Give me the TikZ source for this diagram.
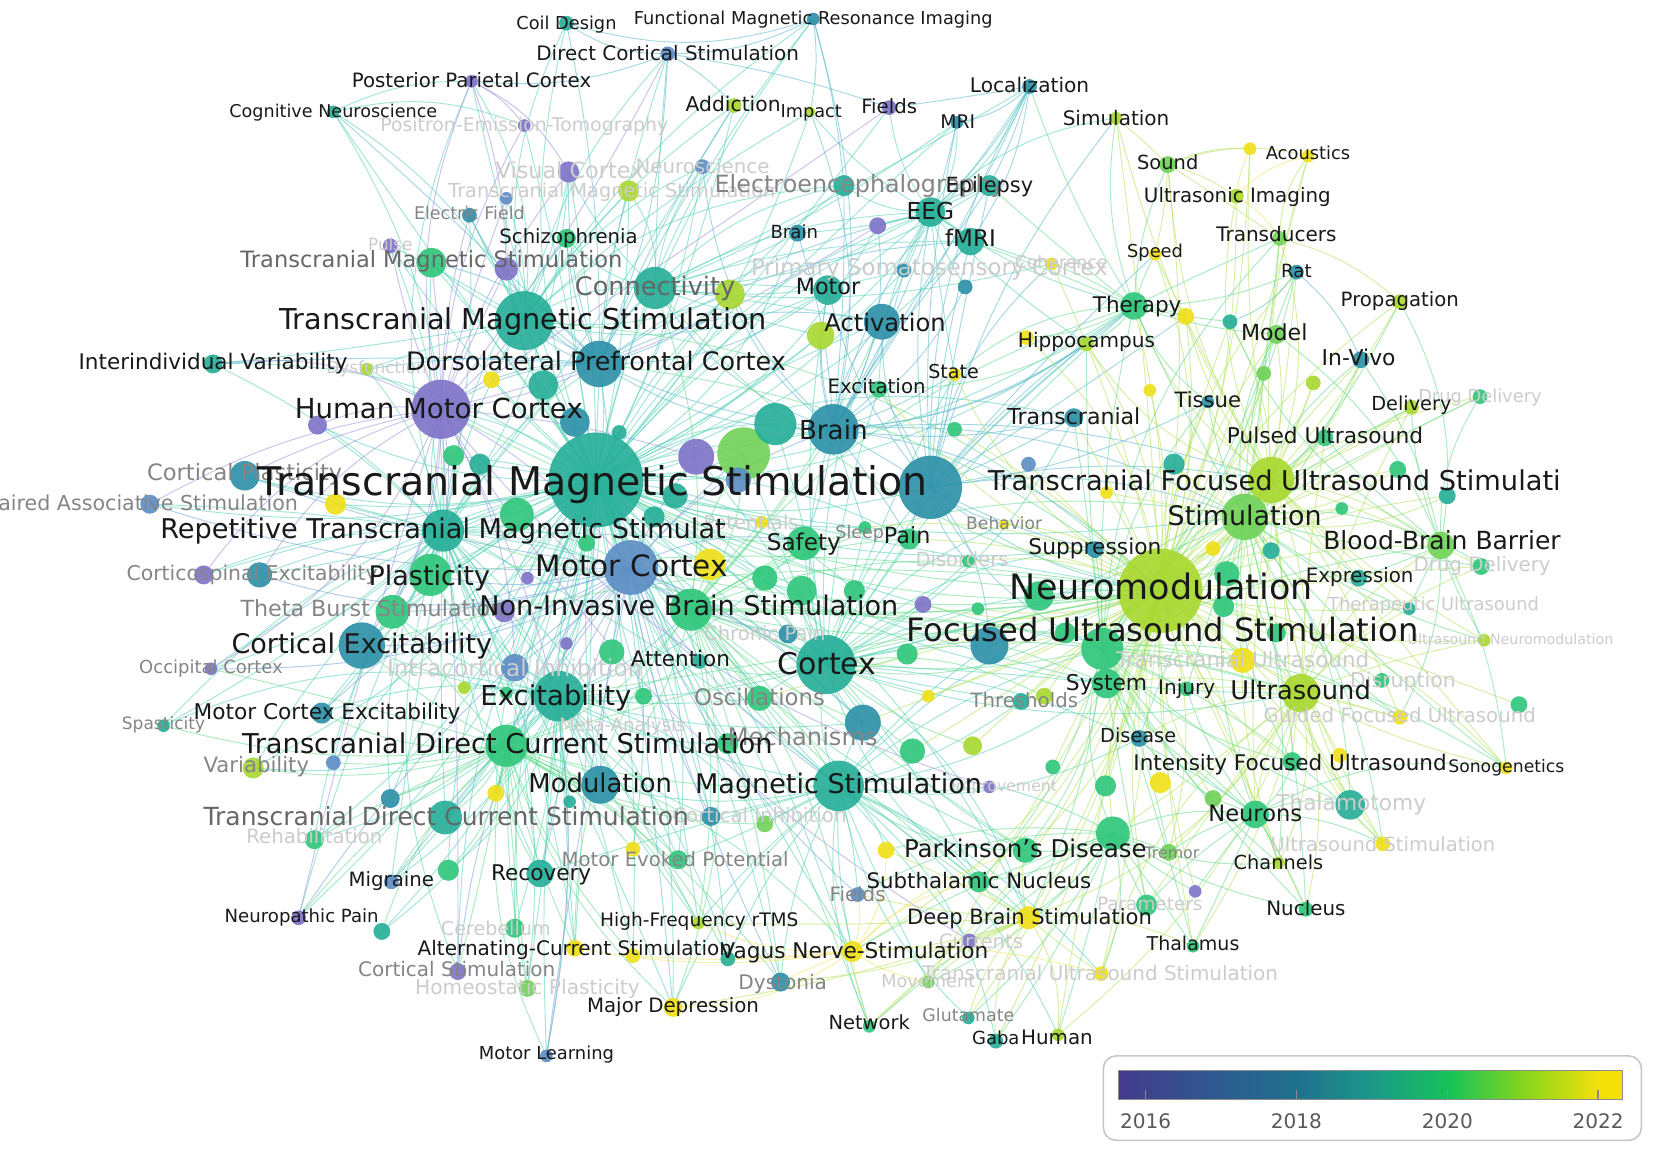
\documentclass[tikz,border=0pt]{standalone}
\usepackage{fontspec}
\setmainfont{DejaVu Sans}
\usepackage{graphicx}
\definecolor{c16}{HTML}{7E72C8}
\definecolor{c17}{HTML}{5C8CC4}
\definecolor{c18}{HTML}{2B90A8}
\definecolor{c19}{HTML}{24AE98}
\definecolor{c20}{HTML}{2EC67A}
\definecolor{c205}{HTML}{6FD257}
\definecolor{c21}{HTML}{A8D82E}
\definecolor{c22}{HTML}{F0DF18}
\definecolor{k16}{HTML}{9C92E2}
\definecolor{k17}{HTML}{72A6DA}
\definecolor{k18}{HTML}{5BB9CF}
\definecolor{k19}{HTML}{55D2B6}
\definecolor{k20}{HTML}{66DC8E}
\definecolor{k21}{HTML}{B5E35E}
\definecolor{k22}{HTML}{EFE35C}
\definecolor{v0}{HTML}{433A8B}
\definecolor{v1}{HTML}{2E5B90}
\definecolor{v2}{HTML}{1F708D}
\definecolor{v3}{HTML}{1C9889}
\definecolor{v4}{HTML}{14C25A}
\definecolor{v5}{HTML}{84D51C}
\definecolor{v6}{HTML}{F3E00C}
\definecolor{v7}{HTML}{F5E003}
\pgfdeclarehorizontalshading{yrs}{100bp}{color(0bp)=(v0); color(25bp)=(v0); color(35bp)=(v1); color(42.7bp)=(v2); color(50.2bp)=(v3); color(57.6bp)=(v4); color(65.1bp)=(v5); color(72.6bp)=(v6); color(75bp)=(v7); color(100bp)=(v7)}
\tikzset{
  lnk/.style={line width=0.9pt, draw opacity=0.55},
  e16/.style={lnk,draw=k16}, e17/.style={lnk,draw=k17}, e18/.style={lnk,draw=k18},
  e19/.style={lnk,draw=k19}, e20/.style={lnk,draw=k20}, e21/.style={lnk,draw=k21},
  e22/.style={lnk,draw=k22},
  lab/.style={inner sep=0pt, yshift=-1.5pt},
  lbk/.style={lab, text=black!90},
  ldg/.style={lab, text=black!60},
  lgr/.style={lab, text=black!48},
  llt/.style={lab, text=black!20},
  yearlab/.style={inner sep=0pt, text=black!65, font=\fontsize{19}{22}\selectfont}
}
\newcommand\linkhub[3]{\foreach \tg [count=\kk] in {#3}{\pgfmathsetmacro\bd{mod(\kk*37,41)-20}\draw[#2] (#1) to[bend left=\bd] (\tg);}}
\begin{document}
\begin{tikzpicture}[x=1pt,y=-1pt]
\useasboundingbox (0,0) rectangle (1568,1090);
\fill[white] (0,0) rectangle (1568,1090);
\clip (0,0) rectangle (1568,1090);
\def\items{tms/565/455/45/c19, nm/1100/560/40/c21, hmc/418/388/28/c16, tms2/497/304/28/c19, cortex/783/630/28/c19, bigtb/882/462/30/c18, mc/598/538/26/c17, yg17/705/430/25/c205, brainL/790/407/24/c18, excit/530/660/24/c19, magst/795/745/24/c19, dlpfc/568/345/22/c18, ce/343/612/22/c18, tfus/1205/455/22/c21, stim/1180/490/22/c205, conn/621/273/20/c19, rtms/420/503/20/c19, plast/408/545/20/c20, tdcs/480/707/20/c20, nibs/655/578/20/c20, tg17/735/402/20/c19, fusbig/1045/615/20/c20, fustb/938/612/18/c18, modul/569/744/18/c18, us/1233/657/18/c21, activ/836/305/17/c18, purp17/660/433/17/c16, mech/818/685/17/c18, x36/490/488/16/c20, tdcs2/422/775/16/c19, tbs/372/580/16/c20, safety/762/515/16/c20, pdbig/1055/790/16/c20, yel18/673/535/15/c22, cp/232/451/14/c18, tms3/409/249/14/c20, yg12/692/279/14/c21, eeg/882/201/14/c19, motor/785/275/14/c19, system/1049/648/14/c20, thalam/1280/763/14/c19, x1/545/400/14/c18, x2/515/365/14/c19, x5/760/560/14/c20, x10/985/565/14/c20, therapy/1075/290/13/c20, fmriS/920/229/13/c19, yg16/778/318/13/c21, icl/488/633/13/c17, recov/512/828/13/c19, neurons/1190/772/13/c20, bbb/1366/517/13/c205, tus/1178/626/12/c22, cse/246/545/12/c18, pd/972/806/12/c20, oscill/720/662/12/c20, x4/700/455/12/c17, x7/725/548/12/c20, x12/865/712/12/c20, x18/1163/544/12/c20, x41/580/618/12/c20, x45/640/470/12/c19, purp12/480/255/11/c16, dbs/975/870/11/c22, x3/620/490/10/c19, x6/810/560/10/c20, x15/1048/745/10/c20, x16/1100/742/10/c22, x21/1113/440/10/c19, x33/1160/575/10/c20, x34/455/440/10/c19, x35/430/432/10/c20, x39/478/580/10/c16, x47/690/705/10/c20, x49/860/620/10/c20, x50/1010/600/10/c20, yel9/318/478/10/c22, tms4/596/181/10/c21, vc/539/163/10/c16, eegraph/800/176/10/c19, epil/938/176/10/c19, pain/862/511/10/c20, stn/928/836/10/c20, vns/808/902/10/c22, var/240/728/10/c21, mce/305/676/10/c18, grn6/425/825/10/c20, params/1087/858/10/c20, purp8/193/545/9/c16, purp10/301/403/9/c16, iv/202/345/9/c19, pas/142/478/9/c17, schizo/537/226/9/c20, transcr/1018/396/9/c18, model/1210/317/9/c205, chronic/747/601/9/c18, blue6/370/757/9/c18, rehab/298/796/9/c20, mep/643/815/9/c20, cereb/488/880/9/c20, mdep/638/955/9/c22, dyst/740/931/9/c18, cortinh/674/774/9/c18, x13/922/707/9/c21, x52/1210/600/9/c20, ifus/1225/722/9/c20, sound/1107/156/8/c205, yel2/1124/300/8/c22, excitn/833/369/8/c20, pulsed/1256/415/8/c20, invivo/1290/341/8/c18, supp/1038/521/8/c18, drugd2/1404/537/8/c20, expr/1288/548/8/c19, thresh/968/665/8/c19, disease/1080/700/8/c18, yel3/840/806/8/c22, tremor/1108/808/8/c205, purp14/832/214/8/c16, brainS/756/221/8/c18, yel11/466/360/8/c22, yel6/470/752/8/c22, acs/545/899/8/c22, cortstim/434/921/8/c16, homeo/500/937/8/c205, grn5/362/883/8/c19, grn19/725/781/8/c205, x8/875/573/8/c16, x17/1150/757/8/c205, x20/1205/522/8/c19, x29/1325/445/8/c20, x30/1372/470/8/c19, x32/1440/668/8/c20, x37/556/515/8/c20, x46/610/660/8/c20, x51/990/660/8/c21, coil/537/22/7/c19, dcs/633/51/7/c17, addict/696/100/7/c21, fieldsT/843/102/7/c16, loc/976/82/7/c18, usimg/1172/186/7/c21, transd/1213/226/7/c205, rat/1229/258/7/c18, propag/1327/286/7/c21, cyan1/1166/305/7/c19, hippoY/973/320/7/c22, hippo/1030/326/7/c21, delivery/1338/386/7/c21, drugd1/1403/376/7/c20, gfus/1327/680/7/c22, ussti/1311/800/7/c22, nucleus/1238/862/7/c20, fieldsB/813/848/7/c17, currents/919/892/7/c16, tusst/1044/923/7/c22, gaba/944/987/7/c19, yel4/600/906/7/c22, teal4/690/909/7/c19, migr/371/836/7/c17, neuropain/283/870/7/c16, yel5/600/805/7/c22, blue7/316/723/7/c17, efield/445/204/7/c18, pulse/370/233/7/c16, psc/857/256/7/c18, blue15/915/272/7/c18, neurosci/666/158/7/c17, atten/663/627/7/c19, injury/1125/653/7/c20, x14/998/727/7/c20, x19/1150/520/7/c22, x22/975/440/7/c17, x24/905/407/7/c20, x26/1198/354/7/c205, x27/1245/363/7/c21, x31/1310/645/7/c20, x44/587/410/7/c19, x53/1270/716/7/c22, fmri/771/18/6/c18, ppc/447/77/6/c16, cogn/316/106/6/c19, pet/497/119/6/c16, mri/907/116/6/c18, simu/1058/112/6/c21, acoust/1240/148/6/c22, yel1/1185/141/6/c22, speed/1095/241/6/c22, state/905/355/6/c22, tissue/1145/381/6/c18, therus/1336/577/6/c19, usnm/1407/607/6/c21, sono/1428/728/6/c22, channels/1212/818/6/c21, thalamus/1131/897/6/c20, purp2/1133/845/6/c16, movement/880/931/6/c205, glut/918/965/6/c19, human/1003/981/6/c21, network/824/973/6/c20, hfrtms/662/875/6/c21, mlearn/518/1001/6/c17, spast/155/688/6/c19, occ/200/634/6/c16, dysf/348/350/6/c21, coher/997/250/6/c22, potent/722/495/6/c22, sleep/820/500/6/c20, disord/918/532/6/c20, improve/938/746/6/c16, x9/927/577/6/c20, x11/880/660/6/c22, x23/1049/467/6/c22, x25/1090/370/6/c22, x28/1272/482/6/c20, x38/500/548/6/c16, x40/537/610/6/c16, x42/440/652/6/c21, x43/480/657/6/c20, x48/540/760/6/c19, blue13/480/188/6/c17, impact/768/106/5/c21, behav/952/497/5/c22}
\foreach \id/\x/\y/\r/\cc in \items {\coordinate (\id) at (\x,\y);}
% ---------- links ----------
\linkhub{tms}{e19}{coil,fmri,dcs,ppc,cogn,pet,addict,impact,loc,brainS,eeg,epil,eegraph,conn,tms2,tms3,tms4,dlpfc,hmc,iv,rtms,cp,pas,cse,plast,tbs,ce,occ,mce,spast,tdcs,tdcs2,var,excit,mc,nibs,safety,modul,magst,cortex,recov,migr,neuropain,mdep,hfrtms,acs,vns,mlearn,cereb,cortstim,homeo,mep,rehab,motor,activ,brainL,nm,fusbig,stim,therapy,pd,dbs,stn,network,dyst,schizo,efield,vc,neurosci,psc,hippo,transcr,pain,chronic,atten,oscill,mech,icl,purp17,yg17,bigtb,yel18,tg17,purp10,yel9,yel11,dysf,purp8,blue7,blue6,yel6,grn6,grn5,yel5,teal4,yel4,cortinh,grn19,potent,sleep,fmriS,purp14,blue13,purp12,yg12,pulse,mri,fieldsT,yg16,system,supp,us}
\linkhub{tms}{e19}{x1,x2,x3,x4,x34,x35,x36,x37,x38,x39,x40,x41,x42,x43,x44,x45,x46,x47,x48,x5,x6,x7}
\linkhub{rtms}{e19}{hmc,dlpfc,tms2,tms3,cp,pas,cse,purp8,plast,tbs,ce,occ,mce,spast,tdcs,tdcs2,var,iv,dysf,excit,mc,nibs,modul,magst,mdep,migr,neuropain,recov,rehab,cogn,ppc,schizo,cortex,brainL,conn,yel9,purp10,icl,blue7,blue6,cortstim,homeo,mep,acs,hfrtms,safety,addict,efield,pulse,vc,x34,x35,x36,x38,x39,x42,x43}
\linkhub{hmc}{e16}{ppc,pet,vc,pulse,purp12,tms3,cp,pas,cse,purp8,occ,icl,mc,purp17,cortstim,neuropain,tms2,dlpfc,purp10,iv,ce,plast,tbs,efield,blue13,fieldsT,dcs,purp14,currents,improve,mlearn}
\linkhub{mc}{e17}{ce,plast,tbs,icl,excit,nibs,modul,magst,tdcs,mce,cse,occ,pas,cp,migr,mlearn,dyst,cortinh,chronic,atten,safety,brainL,mech,purp17,yg17,cortex,recov,neuropain,fieldsB,cortstim}
\linkhub{excit}{e19}{plast,tbs,ce,tdcs,tdcs2,modul,magst,nibs,mce,spast,var,rehab,recov,cereb,homeo,mep,oscill,mech,atten,icl,grn6,grn5,blue6,yel6,yel4,acs,hfrtms,cortex,safety,cortinh,grn19,teal4,migr,mlearn,x40,x41,x42,x43,x46,x47,x48}
\linkhub{nibs}{e20}{tdcs,modul,magst,cortex,safety,chronic,oscill,mech,atten,acs,mdep,vns,hfrtms,dyst,network,pd,stn,dbs,nm,fusbig,stim,pain,disord,sleep,potent,yel18,brainL,activ,conn,yg17,tg17,therapy,system,us,tus}
\linkhub{tdcs}{e20}{tdcs2,var,blue7,blue6,yel6,rehab,migr,neuropain,grn5,recov,grn6,mep,yel5,cereb,cortstim,homeo,acs,yel4,mdep,mlearn,hfrtms,mce,spast,ce,tbs,occ,modul,magst,cortinh,grn19,teal4,vns,dyst}
\linkhub{magst}{e19}{cortex,modul,mech,oscill,cortinh,grn19,vns,dyst,network,pd,yel3,stn,dbs,fieldsB,currents,movement,improve,thresh,system,disease,pdbig,nm,fusbig,fustb,mep,recov,hfrtms,teal4,mdep,glut,gaba,human,tusst}
\linkhub{cortex}{e19}{brainL,activ,motor,safety,pain,sleep,disord,oscill,mech,chronic,atten,nm,fusbig,fustb,system,thresh,stim,tfus,us,transcr,supp,behav,bigtb,excitn,state,yg17,tg17,purp17,pd,stn,dbs,neurons,hippo,therapy}
\linkhub{cortex}{e20}{x5,x6,x7,x8,x9,x11,x12,x13,x49,x50,x51}
\linkhub{brainL}{e18}{activ,motor,eeg,fmriS,epil,eegraph,brainS,psc,blue15,purp14,conn,yg12,yg16,tg17,bigtb,excitn,state,transcr,hippo,therapy,nm,stim,tfus,safety,pain,sleep,loc,mri,fmri,impact,neurosci,dlpfc,tms2}
\linkhub{bigtb}{e18}{activ,motor,eeg,fmriS,epil,transcr,supp,behav,nm,fusbig,fustb,stim,tfus,therapy,hippo,state,excitn,tissue,pain,disord,coher,loc,simu,mri,speed,yel2}
\linkhub{dlpfc}{e18}{tms2,conn,schizo,addict,mdep,iv,dysf,yel11,hmc,tms3,purp12,efield,vc,tms4,neurosci,cogn,coil,dcs,yg12,motor,activ,fmriS,eeg}
\linkhub{tms2}{e19}{conn,schizo,tms3,tms4,efield,pulse,vc,blue13,cogn,ppc,coil,dcs,addict,impact,iv,dysf,yel11,purp12,yg12,motor,eegraph,neurosci,fmri}
\linkhub{conn}{e19}{eegraph,eeg,fmriS,motor,activ,yg16,brainS,psc,epil,tms4,schizo,neurosci,vc,fmri,dcs,loc,mri,coher}
\linkhub{eeg}{e19}{eegraph,epil,fmriS,brainS,purp14,psc,blue15,coher,loc,mri,simu,fieldsT,impact,motor,activ,state,hippo,therapy,excitn}
\linkhub{nm}{e21}{tfus,stim,bbb,drugd1,drugd2,expr,therus,usnm,supp,behav,fusbig,fustb,tus,system,injury,us,thresh,disease,gfus,ifus,sono,thalam,neurons,ussti,channels,nucleus,thalamus,purp2,params,pdbig,pd,tremor,stn,dbs,tusst,movement,human,therapy,yel2,hippo,hippoY,state,excitn,tissue,delivery,pulsed,transcr,sound,usimg,transd,speed,rat,propag,model,cyan1,invivo,simu,coher,pain,disord,sleep,vns,network,glut,gaba,mech,oscill,acoust,yel1}
\linkhub{nm}{e21}{x8,x9,x10,x11,x12,x13,x14,x15,x16,x17,x18,x19,x20,x21,x22,x23,x24,x25,x26,x27,x28,x29,x30,x31,x32,x33,x49,x50,x51,x52,x53}
\linkhub{nm}{e20}{tms,rtms,mc,nibs,excit,tdcs,plast,ce,dlpfc,tms2,conn,hmc}
\linkhub{fusbig}{e20}{stim,tfus,bbb,us,system,injury,neurons,thalam,disease,pdbig,pd,stn,dbs,tremor,thalamus,params,nucleus,channels,tus,ifus,gfus,sono,ussti,therapy,hippo,transcr,supp,model,rat,invivo,transd,tissue}
\linkhub{tfus}{e21}{stim,bbb,drugd1,drugd2,expr,therus,usnm,delivery,pulsed,transd,usimg,sound,acoust,yel1,speed,rat,propag,model,cyan1,invivo,tissue,us,tus,gfus,ifus,sono,neurons,thalam,ussti,channels,hippo,therapy,yel2,simu}
\linkhub{stim}{e20}{bbb,expr,pulsed,delivery,drugd1,drugd2,therus,usnm,us,neurons,thalam,ussti,channels,nucleus,system,injury,disease,tus,gfus,ifus,model,invivo,rat,tissue,therapy,transd,sono,propag}
\linkhub{stim}{e21}{x18,x19,x20,x21,x23,x26,x27,x28,x29,x30,x33,x52}
\linkhub{us}{e21}{bbb,drugd2,therus,usnm,gfus,ifus,sono,thalam,neurons,ussti,channels,nucleus,thalamus,tremor,pdbig,params,injury,system,disease,tusst,dbs,human,expr,delivery,pulsed}
\linkhub{neurons}{e20}{thalam,ussti,channels,nucleus,thalamus,purp2,params,tremor,pdbig,ifus,sono,disease,injury,system}
\linkhub{pdbig}{e20}{pd,stn,dbs,tremor,thalamus,params,purp2,yel3,fieldsB,currents,tusst,movement,glut,gaba,human,network,vns,nucleus,channels}
\linkhub{dbs}{e21}{stn,pd,vns,fieldsB,currents,tusst,movement,network,glut,gaba,human,thalamus,dyst,mdep,hfrtms,yel3}
\linkhub{vns}{e22}{mdep,hfrtms,acs,yel4,teal4,dyst,network,movement,fieldsB,yel3,stn,pd,tusst}
\linkhub{therapy}{e20}{hippo,hippoY,yel2,speed,transd,cyan1,model,rat,tissue,state,excitn,simu,sound,loc,epil,fmriS,coher}
\linkhub{bbb}{e20}{drugd1,drugd2,delivery,pulsed,expr,therus,usnm,invivo,model,propag,cyan1,gfus,sono}
\linkhub{sound}{e21}{acoust,yel1,usimg,speed,transd,simu}
\linkhub{usimg}{e22}{acoust,transd,yel1}
\linkhub{transd}{e21}{acoust,propag}
\linkhub{rat}{e18}{cyan1,invivo}
\linkhub{loc}{e18}{mri,fmriS,eeg,epil,fieldsT}
\linkhub{fmri}{e18}{coil,dcs,impact,eegraph}
\linkhub{dcs}{e18}{coil,ppc,addict,fieldsT}
\linkhub{cogn}{e19}{pet,ppc}
\linkhub{ppc}{e16}{vc,pet,purp12}
% ---------- circles ----------
\foreach \id/\x/\y/\r/\cc in \items {\fill[fill=\cc, fill opacity=0.9] (\id) circle[radius=\r pt];}
% ---------- labels ----------
\foreach \x/\y/\w/\txt [count=\n] in {497/119/273/Positron-Emission-Tomography, 540/163/140/Visual Cortex, 666/158/127/Neuroscience, 580/181/310/Transcranial Magnetic Stimulation, 370/232/42/Pulse, 881/254/338/Primary Somatosensory Cortex, 1006/249/88/Coherence, 357/349/95/Dysfunction, 488/635/242/Intracortical Inhibition, 725/601/115/Chronic Pain, 712/496/90/Potentials, 912/531/88/Disorders, 590/688/120/Meta-Analysis, 298/794/129/Rehabilitation, 470/881/104/Cerebellum, 500/937/213/Homeostatic Plasticity, 720/774/165/Cortical Inhibition, 952/745/100/Improvement, 930/893/80/Currents, 880/931/89/Movement, 1043/923/337/Transcranial Ultrasound Stimulation, 1090/857/100/Parameters, 1281/762/142/Thalamotomy, 1311/801/213/Ultrasound Stimulation, 1327/679/258/Guided Focused Ultrasound, 1178/626/240/Transcranial Ultrasound, 1359/573/200/Therapeutic Ultrasound, 1432/606/195/Ultrasound Neuromodulation, 1403/376/117/Drug Delivery, 1405/536/130/Drug Delivery, 1330/646/100/Disruption}
  {\node[llt] (lt\n) at (\x,\y) {\resizebox{\w pt}{!}{\strut\txt}};}
\foreach \x/\y/\w/\txt [count=\n] in {445/203/105/Electric Field, 815/176/275/Electroencephalography, 135/478/295/Paired Associative Stimulation, 232/449/185/Cortical Plasticity, 239/544/238/Corticospinal Excitability, 353/578/250/Theta Burst Stimulation, 200/633/136/Occipital Cortex, 155/686/79/Spasticity, 243/726/100/Variability, 720/662/124/Oscillations, 761/700/142/Mechanisms, 640/815/215/Motor Evoked Potential, 433/920/187/Cortical Stimulation, 742/932/84/Dystonia, 813/849/53/Fields, 918/963/87/Glutamate, 1111/809/52/Tremor, 815/505/46/Sleep, 952/497/72/Behavior, 971/665/102/Thresholds}
  {\node[lgr] (lg\n) at (\x,\y) {\resizebox{\w pt}{!}{\strut\txt}};}
\foreach \x/\y/\w/\txt [count=\n] in {621/273/152/Connectivity, 409/247/362/Transcranial Magnetic Stimulation, 423/775/460/Transcranial Direct Current Stimulation}
  {\node[ldg] (ld\n) at (\x,\y) {\resizebox{\w pt}{!}{\strut\txt}};}
\foreach \x/\y/\w/\txt [count=\n] in {537/22/95/Coil Design, 771/18/340/Functional Magnetic Resonance Imaging, 633/51/249/Direct Cortical Stimulation, 447/77/227/Posterior Parietal Cortex, 316/106/197/Cognitive Neuroscience, 695/100/90/Addiction, 769/106/58/Impact, 843/102/53/Fields, 908/116/33/MRI, 976/82/113/Localization, 1058/113/101/Simulation, 1107/155/58/Sound, 1240/146/80/Acoustics, 1173/186/177/Ultrasonic Imaging, 1210/223/114/Transducers, 1095/239/53/Speed, 1229/257/29/Rat, 1327/285/112/Propagation, 1208/316/63/Model, 1288/340/70/In-Vivo, 1078/290/84/Therapy, 1030/323/130/Hippocampus, 904/353/48/State, 831/367/93/Excitation, 1145/380/63/Tissue, 1338/383/76/Delivery, 1256/414/186/Pulsed Ultrasound, 1018/396/126/Transcranial, 1208/457/543/Transcranial Focused Ultrasound Stimulati, 1180/491/146/Stimulation, 1367/514/225/Blood-Brain Barrier, 1289/546/102/Expression, 1038/519/126/Suppression, 1101/559/287/Neuromodulation, 1102/599/485/Focused Ultrasound Stimulation, 784/631/94/Cortex, 1049/648/77/System, 1125/652/54/Injury, 1233/656/133/Ultrasound, 1079/698/72/Disease, 1223/724/297/Intensity Focused Ultrasound, 1428/727/110/Sonogenetics, 1190/772/89/Neurons, 1212/818/85/Channels, 1238/862/75/Nucleus, 1131/895/88/Thalamus, 972/806/230/Parkinson's Disease, 928/836/213/Subthalamic Nucleus, 976/870/232/Deep Brain Stimulation, 944/985/45/Gaba, 1002/984/68/Human, 824/970/77/Network, 810/902/254/Vagus Nerve-Stimulation, 663/873/188/High-Frequency rTMS, 545/900/298/Alternating-Current Stimulation, 638/954/163/Major Depression, 518/999/128/Motor Learning, 286/869/146/Neuropathic Pain, 371/834/81/Migraine, 513/828/95/Recovery, 481/707/503/Transcranial Direct Current Stimulation, 310/676/253/Motor Cortex Excitability, 343/612/247/Cortical Excitability, 407/547/115/Plasticity, 420/503/536/Repetitive Transcranial Magnetic Stimulat, 562/459/635/Transcranial Magnetic Stimulation, 416/389/273/Human Motor Cortex, 202/344/255/Interindividual Variability, 565/344/360/Dorsolateral Prefrontal Cortex, 496/304/462/Transcranial Magnetic Stimulation, 539/225/131/Schizophrenia, 938/176/83/Epilepsy, 882/201/45/EEG, 753/220/45/Brain, 920/227/48/fMRI, 785/273/61/Motor, 839/307/115/Activation, 790/409/65/Brain, 762/515/70/Safety, 860/509/44/Pain, 599/538/182/Motor Cortex, 653/576/397/Non-Invasive Brain Stimulation, 645/625/94/Attention, 527/661/143/Excitability, 569/744/136/Modulation, 795/745/272/Magnetic Stimulation}
  {\node[lbk] (lb\n) at (\x,\y) {\resizebox{\w pt}{!}{\strut\txt}};}
% ---------- legend ----------
\node[draw=black!22, line width=1.5pt, rounded corners=12pt, fill=white, minimum width=510pt, minimum height=80pt, inner sep=0pt] (legend) at (1301,1041) {};
\shade[shading=yrs] (1060,1015) rectangle (1538,1042);
\draw[black!45, line width=0.8pt] (1060,1015) rectangle (1538,1042);
\foreach \x/\yr in {1086/2016, 1229/2018, 1372/2020, 1515/2022} {
  \draw[black!45, line width=1.2pt] (\x,1042) -- (\x,1033);
  \node[yearlab] (yr\yr) at (\x,1063) {\yr};
}
\end{tikzpicture}
\end{document}
